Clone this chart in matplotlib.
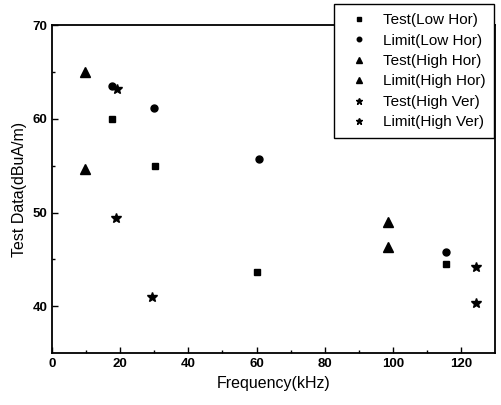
import matplotlib.pyplot as plt
import numpy as np

plt.rcParams['font.family'] = ['Liberation Sans', 'DejaVu Sans']

# data
test_low_hor_f = [17.5, 30.2, 60.2, 115.6]
test_low_hor_v = [60.0, 55.0, 43.7, 44.5]
limit_low_hor_f = [17.6, 29.9, 60.6, 115.6]
limit_low_hor_v = [63.5, 61.2, 55.7, 45.8]
test_high_hor_f = [9.6, 98.6]
test_high_hor_v = [54.7, 46.3]
limit_high_hor_f = [9.6, 98.6]
limit_high_hor_v = [65.0, 49.0]
test_high_ver_f = [18.9, 29.2, 124.4]
test_high_ver_v = [49.4, 41.0, 40.3]
limit_high_ver_f = [19.1, 124.4]
limit_high_ver_v = [63.2, 44.2]

fig = plt.figure(figsize=(5.01, 4.05), dpi=100)
ax = fig.add_axes([0.104, 0.128, 0.884, 0.81])

ax.plot(test_low_hor_f, test_low_hor_v, 's', color='black', ms=5, label='Test(Low Hor)')
ax.plot(limit_low_hor_f, limit_low_hor_v, 'o', color='black', ms=5, label='Limit(Low Hor)')
ax.plot(test_high_hor_f, test_high_hor_v, '^', color='black', ms=6.5, label='Test(High Hor)')
ax.plot(limit_high_hor_f, limit_high_hor_v, '^', color='black', ms=6.5, label='Limit(High Hor)')
ax.plot(test_high_ver_f, test_high_ver_v, '*', color='black', ms=7, label='Test(High Ver)')
ax.plot(limit_high_ver_f, limit_high_ver_v, '*', color='black', ms=7, label='Limit(High Ver)')

ax.set_xlim(0, 130)
ax.set_ylim(35, 70)
ax.set_xticks([0, 20, 40, 60, 80, 100, 120])
ax.set_yticks([40, 50, 60, 70])
ax.set_xticks(np.arange(10, 130, 20), minor=True)
ax.set_yticks([45, 55, 65], minor=True)
ax.tick_params(which='both', direction='in', labelsize=9.5)
ax.tick_params(which='major', length=4, width=1)
ax.tick_params(which='minor', length=2.5, width=1)
for lab in ax.get_xticklabels() + ax.get_yticklabels():
    lab.set_fontweight('bold')
for sp in ax.spines.values():
    sp.set_linewidth(1.3)

ax.set_xlabel('Frequency(kHz)', fontsize=11.5)
ax.set_ylabel('Test Data(dBuA/m)', fontsize=11.5)

leg = ax.legend(loc='upper left', bbox_to_anchor=(0.666, 0.99), bbox_transform=fig.transFigure,
                fontsize=11, frameon=True, fancybox=False, edgecolor='black',
                labelspacing=0.42, handletextpad=0.5, markerscale=0.65, borderpad=0.6,
                handlelength=2.1, borderaxespad=0)
leg.get_frame().set_linewidth(1)
leg.get_frame().set_alpha(1)

fig.savefig('out.png', dpi=100)
